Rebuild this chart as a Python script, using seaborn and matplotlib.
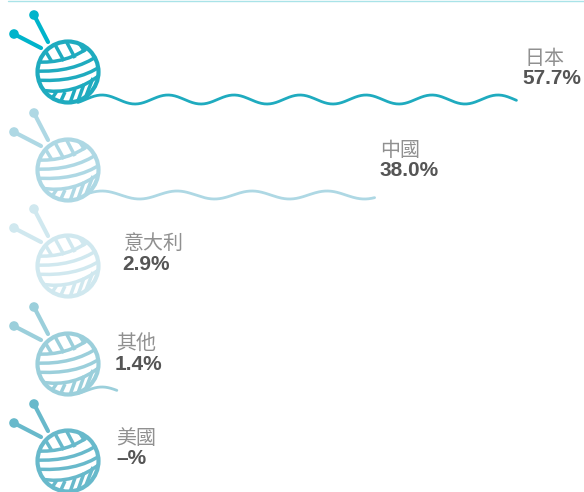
import numpy as np
import matplotlib
matplotlib.use("Agg")
import matplotlib.pyplot as plt
from matplotlib.patches import Circle, PathPatch
from matplotlib.path import Path
import seaborn as sns

# values
countries = ["日本", "中國", "意大利", "其他", "美國"]
share_labels = ["57.7%", "38.0%", "2.9%", "1.4%", "–%"]
# how far each thread reaches, in % (row 3 has none in the source, row 4 is drawn a bit long)
thread_reach = [57.7, 38.0, 0, 2.2, 0]

# styles and layout
ball_colors = ["#1fabbf", "#aed8e4", "#d0e8ef", "#9bcfdb", "#68b9cb"]
needle_colors = ["#00b4cb", "#aed8e4", "#d0e8ef", "#9bcfdb", "#68b9cb"]
ball_y = [72, 170, 266, 364, 461]
ball_x = 68
ball_r = 30.5
name_pos = [(524, 58), (380, 150), (124, 243), (116, 344), (116, 439)]
value_pos = [(522, 78), (379, 171), (122, 264), (115, 365), (116, 459)]
wave_y = [99.5, 195, None, 391, None]
wave_amp = [4.5, 4, None, 4, None]
wave_period = [66, 75, None, 66, None]

# ball drawing, relative to the ball centre
bands = [
    [(-33, -10), (0, -8), (22, -26)],
    [(-33, -1), (5, 1), (31, -17)],
    [(-33, 8), (8, 11), (33, -6)],
    [(-27, 18), (6, 24), (33, 2)],
]
top_hatch = [
    [(-25, -25), (-16, -10)],
    [(-15, -31), (-4, -11)],
    [(-3, -33), (7, -14)],
    [(9, -32), (17, -20)],
]
bottom_hatch = [
    [(-17, 28), (-11, 19)],
    [(-8, 31), (-3, 20)],
    [(2, 31), (7, 17)],
    [(10, 29), (16, 12)],
    [(18, 24), (25, 6)],
]
needles = [
    [(-34, -57), (-20, -30)],
    [(-54, -38), (-27, -24)],
]

sns.set_theme(style="white")
plt.rcParams["font.family"] = ["Noto Sans CJK TC", "DejaVu Sans"]

fig, ax = plt.subplots(figsize=(5.84, 4.92), dpi=100)
fig.subplots_adjust(left=0, right=1, top=1, bottom=0)

# thin rule at the top
ax.plot([8, 584], [0.5, 0.5], color="#a9e3e8", lw=1)


def draw_ball(cy, color, needle_color):
    for head, end in needles:
        sns.lineplot(x=[ball_x + head[0], ball_x + end[0]], y=[cy + head[1], cy + end[1]],
                     ax=ax, color=needle_color, lw=3, sort=False, legend=False, errorbar=None)
        ax.add_patch(Circle((ball_x + head[0], cy + head[1]), 4.8, color=needle_color, lw=0))

    ax.add_patch(Circle((ball_x, cy), ball_r, fc="white", ec="none", zorder=3))
    clip = Circle((ball_x, cy), ball_r, transform=ax.transData)
    for p0, p1, p2 in bands:
        verts = [(ball_x + p[0], cy + p[1]) for p in (p0, p1, p2)]
        patch = PathPatch(Path(verts, [Path.MOVETO, Path.CURVE3, Path.CURVE3]),
                          fc="none", ec=color, lw=2.5, zorder=4)
        ax.add_patch(patch)
        patch.set_clip_path(clip)
    for seg in top_hatch + bottom_hatch:
        line, = ax.plot([ball_x + seg[0][0], ball_x + seg[1][0]], [cy + seg[0][1], cy + seg[1][1]],
                        color=color, lw=2.5, zorder=4, solid_capstyle="butt")
        line.set_clip_path(clip)
    ax.add_patch(Circle((ball_x, cy), ball_r, fc="none", ec=color, lw=3, zorder=5))


for i, country in enumerate(countries):
    draw_ball(ball_y[i], ball_colors[i], needle_colors[i])

    if thread_reach[i] > 0:
        end_x = 101 + 7.2 * thread_reach[i]
        xs = np.linspace(78, end_x, 300)
        ys = wave_y[i] - wave_amp[i] * np.cos(2 * np.pi * (xs - 102) / wave_period[i])
        sns.lineplot(x=xs, y=ys, ax=ax, color=ball_colors[i], lw=2, legend=False,
                     errorbar=None, zorder=2)

    ax.text(name_pos[i][0], name_pos[i][1], country, fontsize=14.4, color="#909090",
            ha="left", va="center")
    ax.text(value_pos[i][0], value_pos[i][1], share_labels[i], fontsize=15, color="#555555",
            family="Liberation Sans", fontweight="bold", ha="left", va="center")

ax.set_xlim(0, 584)
ax.set_ylim(492, 0)
ax.axis("off")

fig.savefig("out.png", dpi=100)
